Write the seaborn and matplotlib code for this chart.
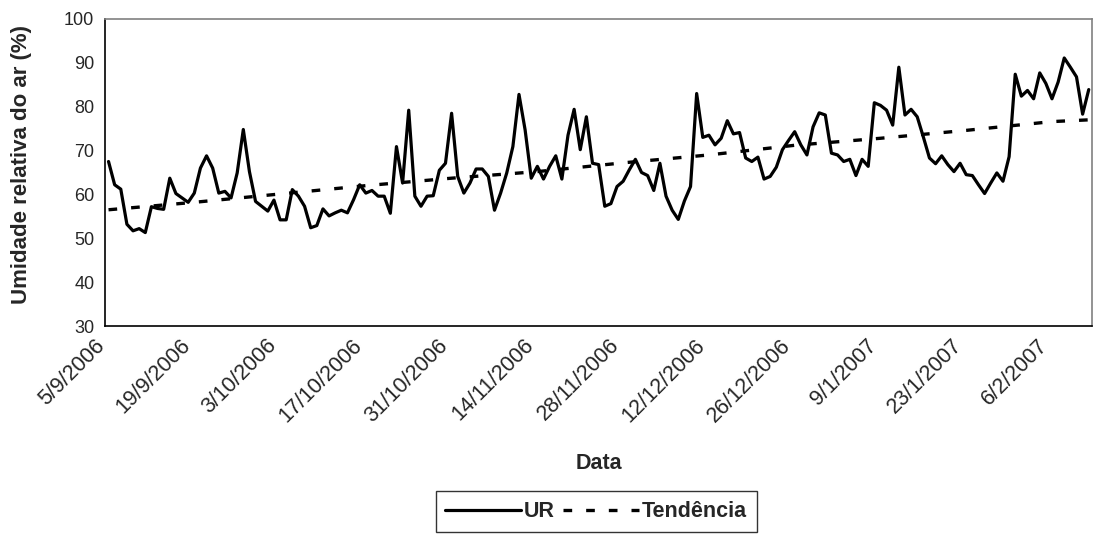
import matplotlib
matplotlib.use("Agg")
import matplotlib.pyplot as plt
import seaborn as sns
import pandas as pd

# daily relative humidity (%), 5/9/2006 .. 12/2/2007
ur = [67.5, 62.2, 61.2, 53.2, 51.7, 52.2, 51.3, 57.2, 56.8, 56.6,
      63.7, 60.2, 59.2, 58.2, 60.3, 66.0, 68.8, 66.0, 60.3, 60.7,
      59.2, 64.9, 74.8, 65.2, 58.4, 57.3, 56.2, 58.7, 54.2, 54.2,
      61.1, 59.6, 57.3, 52.4, 52.9, 56.7, 55.1, 55.8, 56.4, 55.8,
      58.8, 62.2, 60.3, 60.9, 59.6, 59.6, 55.7, 70.9, 62.6, 79.2,
      59.6, 57.3, 59.6, 59.7, 65.5, 67.1, 78.5, 64.1, 60.3, 62.6,
      65.8, 65.8, 64.1, 56.4, 60.3, 64.9, 70.9, 82.8, 74.7, 63.7,
      66.4, 63.5, 66.4, 68.8, 63.5, 73.5, 79.4, 70.2, 77.7, 67.1,
      66.8, 57.3, 57.9, 61.8, 63.0, 65.6, 68.0, 65.0, 64.3, 60.9,
      67.1, 59.6, 56.4, 54.3, 58.5, 61.8, 83.0, 73.0, 73.5, 71.3,
      72.8, 76.8, 73.8, 74.1, 68.3, 67.5, 68.5, 63.5, 64.1, 66.2,
      70.2, 72.3, 74.3, 71.3, 69.0, 75.4, 78.6, 78.1, 69.4, 69.0,
      67.5, 68.0, 64.3, 68.0, 66.4, 80.9, 80.3, 79.2, 75.8, 89.0,
      78.1, 79.4, 77.7, 73.1, 68.3, 67.0, 68.8, 66.8, 65.2, 67.1,
      64.5, 64.3, 62.2, 60.2, 62.6, 64.9, 63.0, 68.6, 87.4, 82.4,
      83.7, 81.8, 87.7, 85.3, 81.8, 85.6, 91.1, 89.0, 86.8, 78.3,
      83.9]

# trend line read at the tick dates (plus last day)
trend_dates = ["2006-09-05", "2006-09-19", "2006-10-03", "2006-10-17",
               "2006-10-31", "2006-11-14", "2006-11-28", "2006-12-12",
               "2006-12-26", "2007-01-09", "2007-01-23", "2007-02-06",
               "2007-02-12"]
trend = [56.5, 58.2, 60.1, 62.0, 63.7, 65.2, 67.2, 69.0, 71.2, 72.8,
         74.6, 76.6, 77.0]

tick_dates = ["2006-09-05", "2006-09-19", "2006-10-03", "2006-10-17",
              "2006-10-31", "2006-11-14", "2006-11-28", "2006-12-12",
              "2006-12-26", "2007-01-09", "2007-01-23", "2007-02-06"]
tick_labels = ["5/9/2006", "19/9/2006", "3/10/2006", "17/10/2006",
               "31/10/2006", "14/11/2006", "28/11/2006", "12/12/2006",
               "26/12/2006", "9/1/2007", "23/1/2007", "6/2/2007"]

half_day = pd.Timedelta(hours=12)
df = pd.DataFrame({"Data": pd.date_range("2006-09-05", periods=len(ur)) + half_day,
                   "UR": ur})
df_trend = pd.DataFrame({"Data": pd.to_datetime(trend_dates) + half_day,
                         "Tendência": trend})

sns.set_style("white")
plt.rcParams["font.family"] = ["Liberation Sans", "DejaVu Sans"]

fig = plt.figure(figsize=(10.94, 5.34), dpi=100)
ax = fig.add_axes([0.0964, 0.3895, 0.9016, 0.575])

sns.lineplot(data=df, x="Data", y="UR", color="black", linewidth=2.3,
             ax=ax, label="UR")
sns.lineplot(data=df_trend, x="Data", y="Tendência", color="black",
             linewidth=2.4, linestyle=(0, (2.6, 4.2)), ax=ax, label="Tendência")

ax.set_xlim(pd.Timestamp("2006-09-05"), pd.Timestamp("2007-02-13"))
ax.set_ylim(30, 100)
ax.set_yticks(range(30, 101, 10))
ax.set_xticks(pd.to_datetime(tick_dates))
ax.set_xticklabels(tick_labels, rotation=45, ha="right", va="baseline",
                   rotation_mode="anchor")
ax.tick_params(axis="both", direction="out", length=5, width=1, color="black",
               labelsize=13, pad=3)
ax.tick_params(axis="x", labelsize=15.5, pad=9.5)

for side in ["left", "bottom"]:
    ax.spines[side].set_color("black")
    ax.spines[side].set_linewidth(1.2)
for side in ["top", "right"]:
    ax.spines[side].set_color("#808080")
    ax.spines[side].set_linewidth(1.2)

ax.set_xlabel("Data", fontsize=15.5, fontweight="bold")
ax.set_ylabel("Umidade relativa do ar (%)", fontsize=16, fontweight="bold")
ax.xaxis.set_label_coords(0.5, -0.415)
ax.yaxis.set_label_coords(-0.074, 0.525)

ax.get_legend().remove()
handles, labels = ax.get_legend_handles_labels()
leg = fig.legend(handles, labels, loc="center", bbox_to_anchor=(0.545, 0.042),
                 ncol=2, frameon=True, fancybox=False, edgecolor="black",
                 handlelength=3.5, handletextpad=0.15, columnspacing=0.4,
                 borderpad=0.45, prop={"weight": "bold", "size": 15.5})
leg.get_frame().set_linewidth(1.0)

fig.savefig("out.png", dpi=100)
